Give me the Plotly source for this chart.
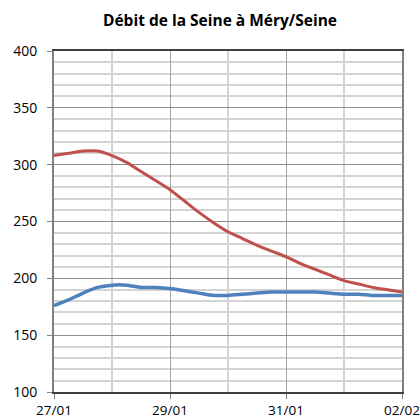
import plotly.graph_objects as go
import pandas as pd

times = pd.date_range("2018-01-27 00:00", "2018-02-02 00:00", freq="6h")
red_values = [308, 310, 312, 312, 308, 302, 294, 286, 278, 268, 258, 249, 241,
              235, 229, 224, 219, 213, 208, 203, 198, 195, 192, 190, 188]
blue_values = [176, 181, 187, 192, 194, 194, 192, 192, 191, 189, 187, 185, 185,
               186, 187, 188, 188, 188, 188, 187, 186, 186, 185, 185, 185]
title_text = "Débit de la Seine à Méry/Seine"

fig = go.Figure()
fig.add_trace(go.Scatter(x=times, y=red_values, mode="lines",
                         line=dict(color="#C0504D", width=3, shape="spline", smoothing=0.6),
                         showlegend=False))
fig.add_trace(go.Scatter(x=times, y=blue_values, mode="lines",
                         line=dict(color="#4F81BD", width=3.5, shape="spline", smoothing=0.6),
                         showlegend=False))

font = "Open Sans, Liberation Sans, sans-serif"
fig.update_layout(
    width=420, height=419,
    margin=dict(l=54, r=18, t=51, b=27, autoexpand=False),
    paper_bgcolor="white", plot_bgcolor="white",
    title=dict(text="<b>" + title_text + "</b>", x=220 / 420, xanchor="center",
               y=1 - 21 / 419, yanchor="middle",
               font=dict(family=font, size=15.5, color="black")),
    font=dict(family=font, size=14, color="black"),
)
fig.update_xaxes(
    range=[times[0], times[-1]], automargin=False,
    tickformat="%d/%m", dtick=2 * 86400000, tick0=times[0],
    showgrid=True, gridcolor="#A6A6A6", gridwidth=1,
    minor=dict(dtick=86400000, showgrid=True, gridcolor="#D4D4D4", gridwidth=1.5),
    showline=True, linecolor="#404040", linewidth=1.5, mirror=True,
    ticks="outside", ticklen=5, tickcolor="#808080",
    tickfont=dict(size=13.5), ticklabeloverflow="allow",
    zeroline=False,
)
fig.update_yaxes(
    range=[100, 400], dtick=50, automargin=False,
    showgrid=True, gridcolor="#8C8C8C", gridwidth=1,
    minor=dict(dtick=10, showgrid=True, gridcolor="#D4D4D4", gridwidth=1.5),
    showline=True, linecolor="#808080", linewidth=2, mirror=True,
    ticks="outside", ticklen=5, tickcolor="#808080",
    tickfont=dict(size=14), ticklabelstandoff=7,
    zeroline=False,
)
fig.write_html("out.html", config={"displayModeBar": False},
               post_script="document.body.style.margin='0';document.body.style.overflow='hidden';")
